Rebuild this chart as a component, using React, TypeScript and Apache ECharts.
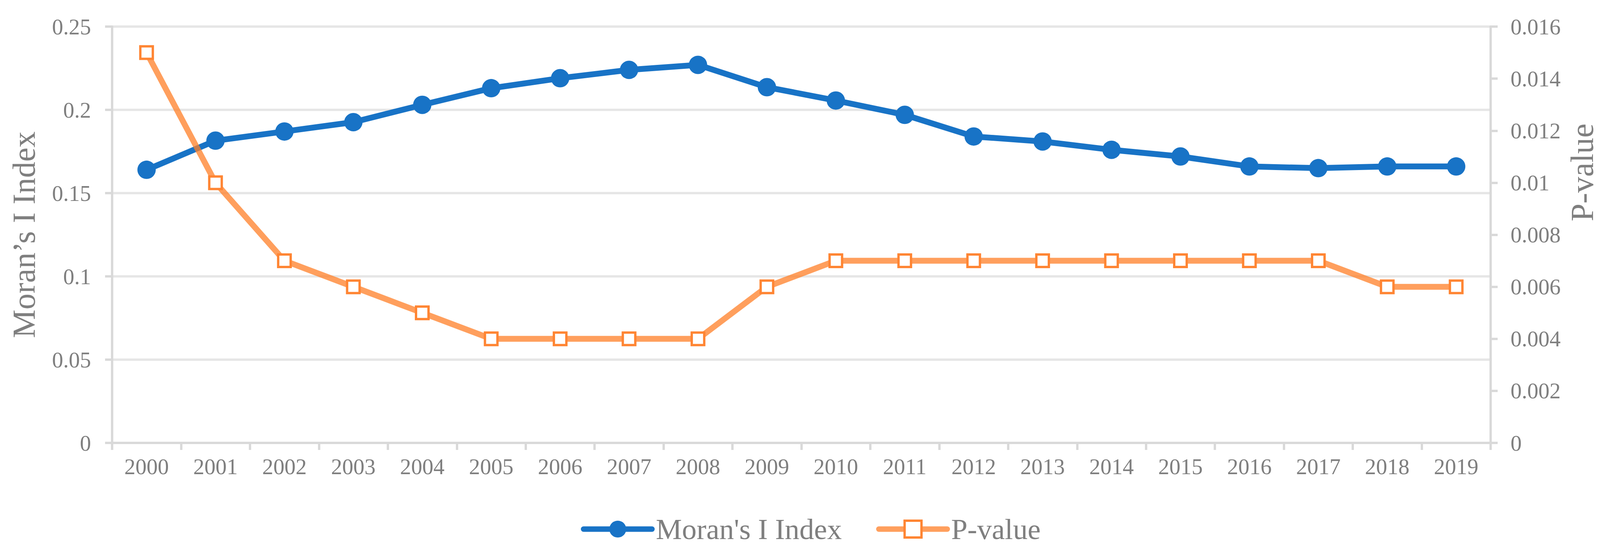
import React, { useEffect, useRef } from "react";
import * as echarts from "echarts";

const years = ["2000","2001","2002","2003","2004","2005","2006","2007","2008","2009","2010","2011","2012","2013","2014","2015","2016","2017","2018","2019"];
const moranValues = [0.164,0.1815,0.187,0.1926,0.203,0.213,0.219,0.224,0.227,0.2136,0.2056,0.197,0.184,0.181,0.176,0.172,0.166,0.165,0.166,0.166];
const pValues = [0.015,0.010,0.007,0.006,0.005,0.004,0.004,0.004,0.004,0.006,0.007,0.007,0.007,0.007,0.007,0.007,0.007,0.007,0.006,0.006];
const moranName = "Moran's I Index";
const pName = "P-value";
const leftAxisName = "Moran\u2019s I Index";

const FONT = '"Liberation Serif", "Times New Roman", serif';
const GRAY = "#7F7F7F";
const AXIS = "#D9D9D9";
const GRID = "#E6E6E6";
const BLUE = "#1873C6";
const ORANGE_LINE = "rgba(255,127,39,0.75)";
const ORANGE_BORDER = "#FF8533";

export default function App() {
  const ref = useRef<HTMLDivElement>(null);
  useEffect(() => {
    if (!ref.current) return;
    const chart = echarts.init(ref.current, null, { renderer: "svg" });
    chart.setOption({
      animation: false,
      backgroundColor: "#fff",
      grid: { left: 287, right: 301, top: 68, bottom: 297 },
      legend: {
        data: [
          {
            name: moranName,
            lineStyle: { color: BLUE, width: 14, cap: "round" },
            itemStyle: { color: BLUE },
          },
          {
            name: pName,
            lineStyle: { color: ORANGE_LINE, width: 14, cap: "round" },
            itemStyle: { color: "#ffffff", borderColor: ORANGE_BORDER, borderWidth: 6 },
          },
        ],
        left: 1487,
        top: 1316,
        padding: 0,
        itemWidth: 175,
        itemHeight: 54,
        itemGap: 88,
        textStyle: { fontFamily: FONT, fontSize: 75, color: GRAY, padding: [0, 0, 0, 5] },
      },
      xAxis: {
        type: "category",
        data: years,
        boundaryGap: true,
        axisLine: { show: true, lineStyle: { color: AXIS, width: 6 } },
        axisTick: { show: true, interval: 0, length: 18, lineStyle: { color: AXIS, width: 6 } },
        axisLabel: { interval: 0, margin: 32, fontFamily: FONT, fontSize: 57, color: GRAY },
        splitLine: { show: false },
      },
      yAxis: [
        {
          type: "value",
          min: 0,
          max: 0.25,
          interval: 0.05,
          name: leftAxisName,
          nameLocation: "middle",
          nameRotate: 90,
          nameGap: 185,
          nameTextStyle: { fontFamily: FONT, fontSize: 82, color: GRAY },
          axisLine: { show: true, lineStyle: { color: AXIS, width: 6 } },
          axisTick: { show: true, length: 18, lineStyle: { color: AXIS, width: 6 } },
          axisLabel: { margin: 54, fontFamily: FONT, fontSize: 57, color: GRAY },
          splitLine: { show: true, lineStyle: { color: GRID, width: 6 } },
        },
        {
          type: "value",
          position: "right",
          min: 0,
          max: 0.016,
          interval: 0.002,
          axisLine: { show: true, lineStyle: { color: AXIS, width: 6 } },
          axisTick: { show: true, length: 18, lineStyle: { color: AXIS, width: 6 } },
          axisLabel: { margin: 51, fontFamily: FONT, fontSize: 57, color: GRAY },
          splitLine: { show: false },
        },
      ],
      graphic: [
        {
          type: "text",
          x: 4050,
          y: 441,
          rotation: Math.PI / 2,
          style: {
            text: pName,
            fontFamily: FONT,
            fontSize: 82,
            fill: GRAY,
            align: "center",
            verticalAlign: "middle",
          },
        },
      ],
      series: [
        {
          name: moranName,
          type: "line",
          yAxisIndex: 0,
          data: moranValues,
          symbol: "circle",
          symbolSize: 47,
          showAllSymbol: true,
          itemStyle: { color: BLUE },
          lineStyle: { color: BLUE, width: 15, cap: "round", join: "round" },
        },
        {
          name: pName,
          type: "line",
          yAxisIndex: 1,
          data: pValues,
          symbol: "rect",
          symbolSize: 32,
          showAllSymbol: true,
          itemStyle: { color: "#ffffff", borderColor: ORANGE_BORDER, borderWidth: 6 },
          lineStyle: { color: ORANGE_LINE, width: 15, cap: "round", join: "round" },
        },
      ],
    });
    return () => chart.dispose();
  }, []);
  return (
    <div
      ref={ref}
      style={{ position: "fixed", left: 0, top: 0, width: 4117, height: 1430 }}
    />
  );
}
